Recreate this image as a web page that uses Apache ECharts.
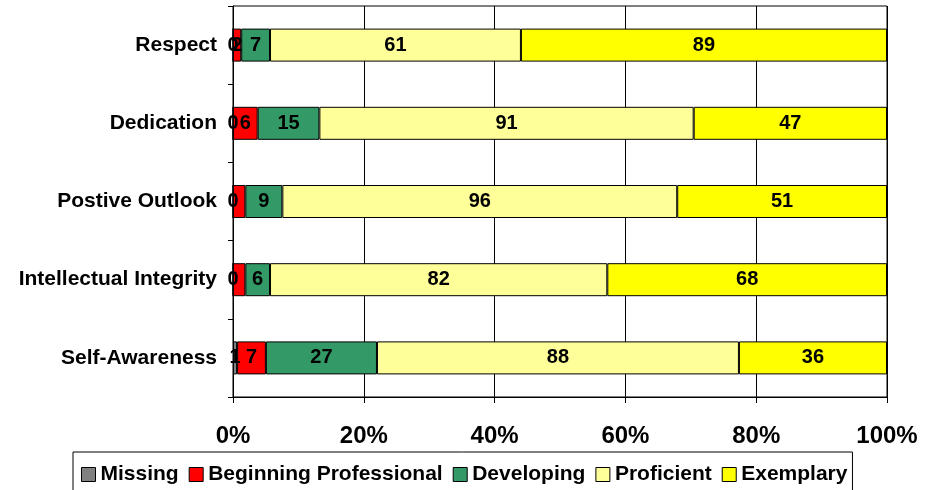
<!DOCTYPE html>
<html>
<head>
<meta charset="utf-8">
<script src="https://cdn.jsdelivr.net/npm/echarts@6/dist/echarts.min.js"></script>
<style>
  html, body { margin: 0; padding: 0; background: #fff; }
  #chart { width: 942px; height: 490px; }
</style>
</head>
<body>
<div id="chart"></div>
<script>
var categories = ["Respect", "Dedication", "Postive Outlook", "Intellectual Integrity", "Self-Awareness"];
var seriesNames = ["Missing", "Beginning Professional", "Developing", "Proficient", "Exemplary"];
var colors = ["#808080", "#FF0000", "#339966", "#FFFF99", "#FFFF00"];
var missing = [0, 0, 0, 0, 1];
var beginning = [2, 6, 3, 3, 7];
var developing = [7, 15, 9, 6, 27];
var proficient = [61, 91, 96, 82, 88];
var exemplary = [89, 47, 51, 68, 36];
var xTicks = [0, 20, 40, 60, 80, 100];
// labels Excel did not draw (Beginning Professional on these two rows)
var hiddenLabels = { 1: [2, 3] };

var values = [missing, beginning, developing, proficient, exemplary];
var totals = categories.map(function (c, i) {
  return values.reduce(function (s, arr) { return s + arr[i]; }, 0);
});

var myChart = echarts.init(document.getElementById("chart"));
var series = [];
for (let k = 0; k < values.length; k++) {
  let data = values[k].map(function (v, i) {
    let item = { value: v / totals[i] * 100, raw: v };
    if (hiddenLabels[k] && hiddenLabels[k].indexOf(i) >= 0) {
      item.label = { show: false };
    }
    return item;
  });
  series.push({
    name: seriesNames[k],
    type: "bar",
    stack: "all",
    barWidth: 33,
    itemStyle: {
      color: colors[k],
      borderColor: "#000",
      borderWidth: 1
    },
    label: {
      show: true,
      position: "inside",
      color: "#000",
      fontFamily: "Liberation Sans, Arial",
      fontWeight: "bold",
      fontSize: 20,
      formatter: function (p) { return p.data.raw; }
    },
    data: data
  });
}

var option = {
  animation: false,
  color: colors,
  grid: {
    left: 233,
    right: 55,
    top: 6,
    bottom: 93,
    show: true,
    borderColor: "#000",
    borderWidth: 1
  },
  legend: {
    left: 73,
    top: 452,
    padding: [12, 5, 14, 8],
    borderColor: "#000",
    borderWidth: 1,
    itemGap: 10,
    itemWidth: 14,
    itemHeight: 14,
    icon: "rect",
    itemStyle: { borderColor: "#000", borderWidth: 1 },
    textStyle: {
      color: "#000",
      fontFamily: "Liberation Sans, Arial",
      fontWeight: "bold",
      fontSize: 21
    },
    data: seriesNames
  },
  xAxis: {
    type: "value",
    min: xTicks[0],
    max: xTicks[xTicks.length - 1],
    interval: 20,
    axisLine: { show: true, lineStyle: { color: "#000", width: 1 } },
    axisTick: { show: true, length: 6, lineStyle: { color: "#000" } },
    splitLine: { show: true, lineStyle: { color: "#000", width: 1 } },
    axisLabel: {
      margin: 27,
      color: "#000",
      fontFamily: "Liberation Sans, Arial",
      fontWeight: "bold",
      fontSize: 24,
      formatter: "{value}%"
    }
  },
  yAxis: {
    type: "category",
    inverse: true,
    data: categories,
    axisLine: { show: true, lineStyle: { color: "#000", width: 1 } },
    axisTick: { show: true, length: 5, lineStyle: { color: "#000" } },
    splitLine: { show: false },
    axisLabel: {
      margin: 16,
      color: "#000",
      fontFamily: "Liberation Sans, Arial",
      fontWeight: "bold",
      fontSize: 21
    }
  },
  series: series
};
myChart.setOption(option, true);
</script>
</body>
</html>
